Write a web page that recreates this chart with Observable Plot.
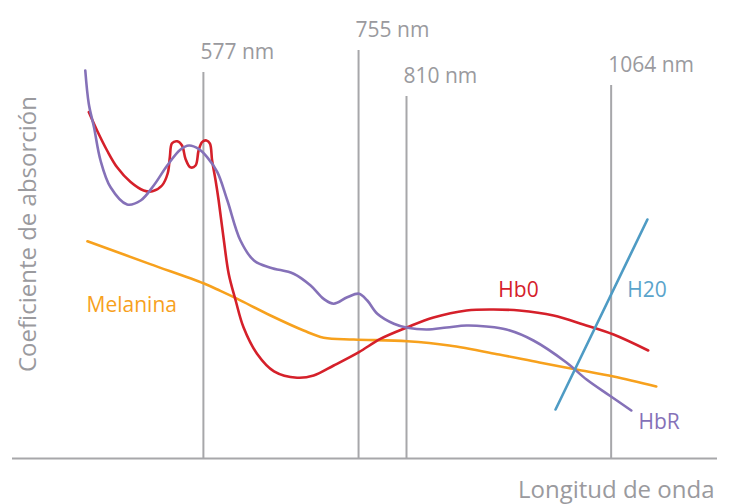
<!DOCTYPE html>
<html>
<head>
<meta charset="utf-8">
<script src="https://cdn.jsdelivr.net/npm/d3@7"></script>
<script src="https://cdn.jsdelivr.net/npm/@observablehq/plot@0.6"></script>
<style>
  html, body { margin: 0; padding: 0; background: #ffffff; }
</style>
</head>
<body>
<div id="chart"></div>
<script>
// Wavelength markers (nm) and the height of each marker line (absorption units)
const markerNm = [577, 755, 810, 1064];
const markerTop = [96.5, 102, 90.5, 93.25];
const markerLabels = ["577 nm", "755 nm", "810 nm", "1064 nm"];

// HbO (oxyhemoglobin)
const hboNm = [445.5, 455, 466.5, 478, 493.5, 508.5, 518.5, 529.5, 536, 538.5, 541, 547, 552.5, 556.5, 562, 568, 571.5, 575.5, 580.5, 584.5, 587, 591, 594.5, 600.5, 606, 614, 623, 638.5, 658, 684.5, 703.5, 726.5, 755.5, 780, 811, 843.5, 884.5, 918, 950, 992.5, 1029.5, 1067, 1110];
const hboVal = [86.6, 82, 77, 72.8, 69.1, 67, 66.8, 68.25, 71.25, 75.3, 78.8, 79.3, 78.25, 74.9, 72.8, 73.25, 77, 79.1, 79.5, 78.7, 74.5, 69.5, 64.5, 54.5, 46.2, 39.5, 32.8, 26.2, 21.8, 20.2, 20.75, 23.25, 26.6, 29.9, 32.8, 35.25, 37, 37.25, 37, 35.75, 33.5, 31, 27];

// HbR (deoxyhemoglobin)
const hbrNm = [441.5, 445.5, 451.5, 459, 470.5, 489.5, 505, 520, 535.5, 550.5, 560.5, 571.5, 581.5, 593, 604.5, 619.5, 635, 654, 680.5, 700, 715, 726.5, 742, 755.5, 765, 776.5, 795.5, 811, 835, 860, 884.5, 909, 934, 967.5, 1008.5, 1033.5, 1062, 1089];
const hbrVal = [97, 88.7, 82.8, 74.5, 67.8, 63.5, 64.5, 68.25, 73.25, 77.2, 78.25, 77.4, 75.3, 71.6, 64.5, 54.5, 49.5, 47.7, 46.2, 43.25, 39.9, 38.7, 40.3, 41.2, 39.5, 36.2, 33.7, 32.7, 32.25, 32.75, 33.25, 33, 32.25, 29.5, 24, 19.75, 15.75, 12];

// Melanin
const melNm = [444, 516, 577, 596.5, 616, 654, 692, 715, 749.5, 811, 863, 925, 975, 1021, 1067, 1120];
const melVal = [54.3, 48.6, 43.8, 41.9, 39.9, 35.75, 32, 30.2, 29.75, 29.3, 28.25, 26, 24, 22.25, 20.5, 18];

// Water
const h2oNm = [995, 1109];
const h2oVal = [12.25, 59.75];

// Series labels
const seriesNames = ["Melanina", "Hb0", "H20", "HbR"];
const seriesLabelNm = [443, 924, 1084, 1098];
const seriesLabelVal = [36.75, 40.5, 40.5, 7.5];

const colors = {
  "Hb0": "#d5202a",
  "HbR": "#8571b8",
  "Melanina": "#f7a11d",
  "H20": "#4e9bc4"
};
const labelColors = {
  "Hb0": "#d5202a",
  "HbR": "#8571b8",
  "Melanina": "#f7a11d",
  "H20": "#5aa4cb"
};

const toPts = (xs, ys) => xs.map((x, i) => ({x, y: ys[i]}));
const markers = markerNm.map((nm, i) => ({nm, top: markerTop[i], label: markerLabels[i]}));
const labels = seriesNames.map((name, i) => ({name, x: seriesLabelNm[i], y: seriesLabelVal[i]}));

const gray = "#a7a7aa";
const grayText = "#9a9a9e";

const chart = Plot.plot({
  width: 733,
  height: 504,
  marginTop: 58,
  marginBottom: 46,
  marginLeft: 12,
  marginRight: 16,
  style: {fontFamily: "'Open Sans', sans-serif", background: "#ffffff"},
  x: {type: "linear", domain: [358, 810, 1196], range: [12, 406, 717], axis: null},
  y: {domain: [0, 100], axis: null},
  marks: [
    Plot.ruleY([0], {stroke: gray, strokeWidth: 2}),
    Plot.ruleX(markers, {x: "nm", y1: 0, y2: "top", stroke: gray, strokeWidth: 2}),
    Plot.text(markers, {x: "nm", y: "top", text: "label", textAnchor: "start", lineAnchor: "bottom", dx: -3, dy: -14, fontSize: 21, fill: grayText}),
    Plot.line(toPts(melNm, melVal), {x: "x", y: "y", stroke: colors["Melanina"], strokeWidth: 2.6, curve: "catmull-rom"}),
    Plot.line(toPts(hboNm, hboVal), {x: "x", y: "y", stroke: colors["Hb0"], strokeWidth: 2.6, curve: "catmull-rom"}),
    Plot.line(toPts(hbrNm, hbrVal), {x: "x", y: "y", stroke: colors["HbR"], strokeWidth: 2.6, curve: "catmull-rom"}),
    Plot.line(toPts(h2oNm, h2oVal), {x: "x", y: "y", stroke: colors["H20"], strokeWidth: 2.6}),
    Plot.text(labels, {x: "x", y: "y", text: "name", textAnchor: "start", lineAnchor: "bottom", fontSize: 21, fill: d => labelColors[d.name]}),
    Plot.text(["Coeficiente de absorción"], {frameAnchor: "left", rotate: -90, textAnchor: "middle", lineAnchor: "bottom", dx: 23, dy: -24.5, fontSize: 24, fill: grayText}),
    Plot.text(["Longitud de onda"], {frameAnchor: "bottom-right", textAnchor: "end", lineAnchor: "bottom", dx: -3, dy: 39, fontSize: 24, fill: grayText})
  ]
});
document.getElementById("chart").appendChild(chart);
</script>
</body>
</html>
